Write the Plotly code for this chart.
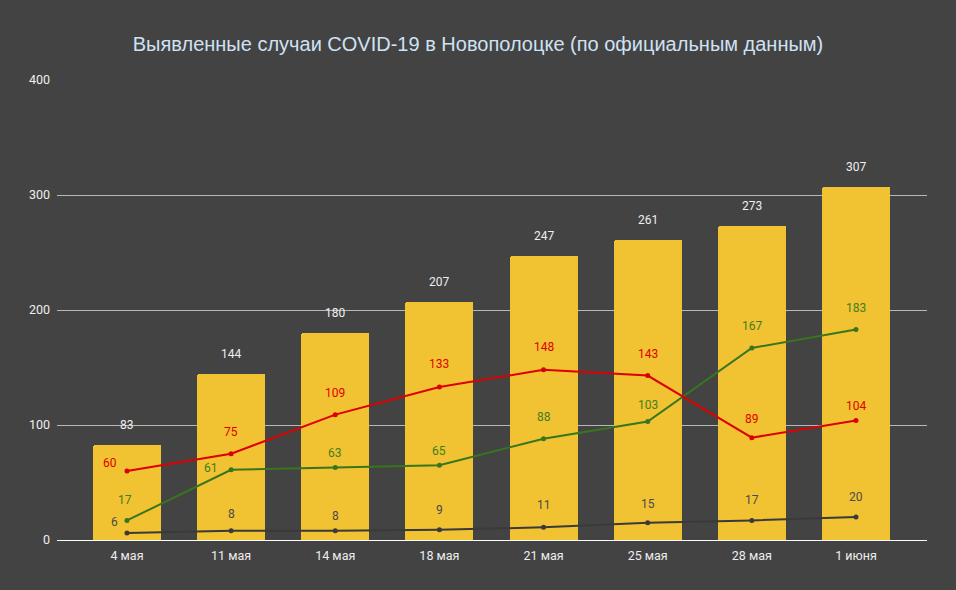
import plotly.graph_objects as go

dates = ["4 мая", "11 мая", "14 мая", "18 мая", "21 мая", "25 мая", "28 мая", "1 июня"]
total = [83, 144, 180, 207, 247, 261, 273, 307]
red_vals = [60, 75, 109, 133, 148, 143, 89, 104]
green_vals = [17, 61, 63, 65, 88, 103, 167, 183]
dark_vals = [6, 8, 8, 9, 11, 15, 17, 20]
y_ticks = [0, 100, 200, 300, 400]

BG = "#434343"
YELLOW = "#f1c232"
RED = "#dd0000"
GREEN = "#38761d"
DARK = "#3a3a3a"

fig = go.Figure()
fig.add_trace(go.Bar(x=list(range(8)), y=total, marker=dict(color=YELLOW, line=dict(width=0), cornerradius=2),
                     width=0.653, hoverinfo="skip"))
for vals, col in [(dark_vals, DARK), (green_vals, GREEN), (red_vals, RED)]:
    fig.add_trace(go.Scatter(x=list(range(8)), y=vals, mode="lines+markers",
                             line=dict(color=col, width=2), marker=dict(color=col, size=5)))

annotations = []
def add_labels(vals, color, xs, ys):
    for i, v in enumerate(vals):
        annotations.append(dict(x=i, y=v, xref="x", yref="y", text=str(v), showarrow=False,
                                xshift=xs[i], yshift=ys[i],
                                font=dict(family="Roboto", size=12, color=color)))

add_labels(total, "#eeeeee", [0]*8, [20]*8)
add_labels(red_vals, "#e00000", [-17, 0, 0, 0, 0, 0, 0, 0], [8, 22, 22, 23, 23, 22, 19, 14])
add_labels(green_vals, "#3f7f1f", [-2, -20, 0, 0, 0, 0, 0, 0], [20, 2, 15, 14, 22, 17, 22, 22])
add_labels(dark_vals, "#4a4a4a", [-12, 0, 0, 0, 0, 0, 0, 0], [11, 17, 15, 20, 22, 19, 20, 20])

fig.update_layout(
    width=956, height=590,
    paper_bgcolor=BG, plot_bgcolor=BG,
    margin=dict(l=57, r=29, t=80, b=50),
    showlegend=False,
    title=dict(text="Выявленные случаи COVID-19 в Новополоцке (по официальным данным)",
               x=0.5, xanchor="center", y=0.925, yanchor="middle",
               font=dict(family="Liberation Sans, Arial", size=20, color="#cfe2f3")),
    annotations=annotations,
    bargap=0,
)
fig.update_xaxes(range=[-0.672, 7.682], tickmode="array", tickvals=list(range(8)), ticktext=dates,
                 showgrid=False, zeroline=False, showline=False, ticks="", ticklabelstandoff=6,
                 tickfont=dict(family="Roboto", size=12.5, color="#eeeeee"), fixedrange=True)
fig.update_yaxes(range=[0, 400], tickmode="array", tickvals=y_ticks, showgrid=True,
                 gridcolor="#b7b7b7", gridwidth=1, zeroline=True, zerolinecolor="#ffffff",
                 zerolinewidth=1, ticks="", ticklabelstandoff=6,
                 tickfont=dict(family="Roboto", size=12.5, color="#eeeeee"), fixedrange=True)

fig.write_html("out.html", config={"displayModeBar": False},
               post_script="document.body.style.margin='0';document.body.style.background='#434343';")
